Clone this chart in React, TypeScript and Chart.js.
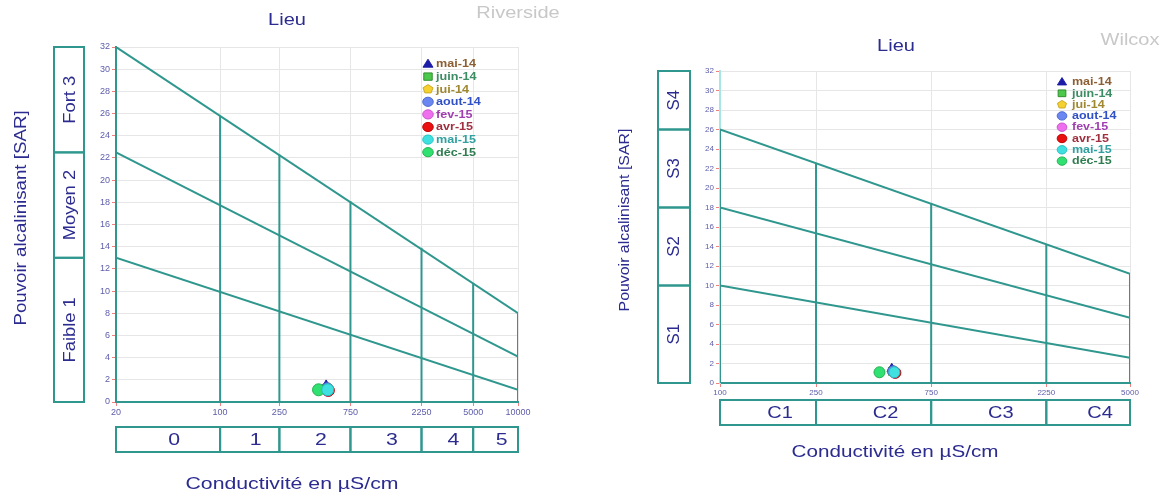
import React, { useEffect, useRef } from 'react';
import { Chart, registerables } from 'chart.js';
Chart.register(...registerables);

const TEAL = '#2f978e';
const INK = '#2b2b90';
const TICK_INK = '#5d5dab';
const FONT = '"Liberation Sans", Arial, sans-serif';

// ---- sampling series (shared by both diagrams) ----
const seriesNames = ['mai-14', 'juin-14', 'jui-14', 'aout-14', 'fev-15', 'avr-15', 'mai-15', 'déc-15'];
const seriesX = [515, 518, 520, 522, 530, 533, 528, 458];
const seriesY = [1.45, 1.2, 1.2, 1.2, 1.05, 1.05, 1.1, 1.1];
const seriesFill = ['#1c1ca8', '#4cc84c', '#f4d030', '#6a86f0', '#ee70ee', '#e81010', '#40e0e0', '#30e070'];
const seriesBorder = ['#1c1ca8', '#2a8a2a', '#c8a820', '#4a66d0', '#c850c8', '#c00000', '#20c0c0', '#20b050'];
const seriesShape = ['triangle', 'rect', 'pentagon', 'circle', 'circle', 'circle', 'circle', 'circle'];
const seriesText = ['#8b5e34', '#3c8c64', '#a08830', '#3050c8', '#a040b0', '#a03040', '#30a0a0', '#2e7d50'];
const seriesDrawOrder = [3, 5, 6, 2, 7, 4, 0, 1];

// ---- Riverside diagram ----
const leftXTicks = [20, 100, 250, 750, 2250, 5000, 10000];
const leftClassLabels = ['0', '1', '2', '3', '4', '5'];
const leftSarBounds = [0, 13, 22.5, 32];
const leftSarLabels = ['Faible 1', 'Moyen 2', 'Fort 3'];
const leftLineEnds = [20, 10000];
const leftHigh = [32, 8];
const leftMid = [22.5, 4.1];
const leftLow = [13, 1.1];
const leftVerticalTops = [32, 25.8, 22.3, 18.1, 13.9, 10.7, 8];

// ---- Wilcox diagram ----
const rightXTicks = [100, 250, 750, 2250, 5000];
const rightClassLabels = ['C1', 'C2', 'C3', 'C4'];
const rightSarBounds = [0, 10, 18, 26, 32];
const rightSarLabels = ['S1', 'S2', 'S3', 'S4'];
const rightLineEnds = [100, 5000];
const rightHigh = [26, 11.2];
const rightMid = [18, 6.7];
const rightLow = [10, 2.6];
const rightVerticalTops = [26, 22.5, 18.4, 14.2, 11.2];

const yMin = 0;
const yMax = 32;
const yStep = 2;

type Spec = {
  name: string;
  xTicks: number[];
  classLabels: string[];
  sarBounds: number[];
  sarLabels: string[];
  lineEnds: number[];
  lines: number[][];
  vTops: number[];
  yBorder: string;
  width: number;
  height: number;
  pad: { left: number; right: number; top: number; bottom: number };
  tickFont: number;
  pointR: number;
  sarBox: [number, number];
  sarFont: number;
  sarStretch: number;
  classBox: [number, number];
  classFont: number;
  classShift: number;
  titlePos: [number, number];
  namePos: [number, number];
  titleFont: number;
  yTitlePos: [number, number];
  yTitleFont: number;
  yTitleStretch: number;
  xTitlePos: [number, number];
  xTitleFont: number;
  legend: { mx: number; tx: number; y0: number; step: number; r: number; font: number; stretch: number };
};

const H_STRETCH = 1.25;

function stretchedText(ctx: CanvasRenderingContext2D, text: string, x: number, y: number, sx: number, rotate = false) {
  ctx.save();
  ctx.translate(x, y);
  if (rotate) ctx.rotate(-Math.PI / 2);
  ctx.scale(sx, 1);
  ctx.fillText(text, 0, 0);
  ctx.restore();
}

function drawShape(ctx: CanvasRenderingContext2D, shape: string, x: number, y: number, r: number) {
  ctx.save();
  ctx.translate(x, y);
  ctx.scale(1.15, 1);
  ctx.beginPath();
  if (shape === 'triangle') {
    ctx.moveTo(0, -r * 1.05);
    ctx.lineTo(r * 0.95, r * 0.7);
    ctx.lineTo(-r * 0.95, r * 0.7);
    ctx.closePath();
  } else if (shape === 'rect') {
    const h = r * 0.8;
    ctx.rect(-h, -h, 2 * h, 2 * h);
  } else if (shape === 'pentagon') {
    for (let i = 0; i < 5; i++) {
      const a = -Math.PI / 2 + (i * 2 * Math.PI) / 5;
      const px = r * Math.cos(a);
      const py = r * Math.sin(a);
      if (i === 0) ctx.moveTo(px, py);
      else ctx.lineTo(px, py);
    }
    ctx.closePath();
  } else {
    ctx.arc(0, 0, r, 0, Math.PI * 2);
  }
  ctx.fill();
  ctx.lineWidth = 1 / 1.15;
  ctx.stroke();
  ctx.restore();
}

function makeDecor(spec: Spec) {
  return {
    id: 'decor_' + spec.name,
    afterDraw(chart: any) {
      const ctx: CanvasRenderingContext2D = chart.ctx;
      const xs = chart.scales.x;
      const ys = chart.scales.y;
      ctx.save();
      // SAR class boxes (left side)
      ctx.strokeStyle = TEAL;
      ctx.lineWidth = 2;
      ctx.textAlign = 'center';
      ctx.textBaseline = 'middle';
      for (let i = 0; i < spec.sarLabels.length; i++) {
        const top = ys.getPixelForValue(spec.sarBounds[i + 1]);
        const bot = ys.getPixelForValue(spec.sarBounds[i]);
        const [x0, x1] = spec.sarBox;
        ctx.strokeRect(x0, top, x1 - x0, bot - top);
        ctx.fillStyle = INK;
        ctx.font = `${spec.sarFont}px ${FONT}`;
        stretchedText(ctx, spec.sarLabels[i], (x0 + x1) / 2 + 1, (top + bot) / 2, spec.sarStretch, true);
      }
      // conductivity class boxes (bottom)
      for (let i = 0; i < spec.classLabels.length; i++) {
        const l = xs.getPixelForValue(spec.xTicks[i]);
        const r = xs.getPixelForValue(spec.xTicks[i + 1]);
        const [y0, y1] = spec.classBox;
        ctx.strokeRect(l, y0, r - l, y1 - y0);
        ctx.fillStyle = INK;
        ctx.font = `${spec.classFont}px ${FONT}`;
        stretchedText(ctx, spec.classLabels[i], (l + r) / 2 + spec.classShift, (y0 + y1) / 2 + 1, H_STRETCH);
      }
      // titles
      ctx.fillStyle = INK;
      ctx.font = `${spec.titleFont}px ${FONT}`;
      stretchedText(ctx, 'Lieu', spec.titlePos[0], spec.titlePos[1], H_STRETCH);
      ctx.fillStyle = '#c8c8c8';
      stretchedText(ctx, spec.name, spec.namePos[0], spec.namePos[1], H_STRETCH);
      ctx.fillStyle = INK;
      ctx.font = `${spec.xTitleFont}px ${FONT}`;
      stretchedText(ctx, 'Conductivité en µS/cm', spec.xTitlePos[0], spec.xTitlePos[1], H_STRETCH);
      ctx.font = `${spec.yTitleFont}px ${FONT}`;
      stretchedText(ctx, 'Pouvoir alcalinisant [SAR]', spec.yTitlePos[0], spec.yTitlePos[1], spec.yTitleStretch, true);
      // legend
      const lg = spec.legend;
      for (let i = 0; i < seriesNames.length; i++) {
        const y = lg.y0 + i * lg.step;
        ctx.fillStyle = seriesFill[i];
        ctx.strokeStyle = seriesBorder[i];
        drawShape(ctx, seriesShape[i], lg.mx, y, lg.r);
        ctx.fillStyle = seriesText[i];
        ctx.font = `bold ${lg.font}px ${FONT}`;
        ctx.textAlign = 'left';
        ctx.textBaseline = 'middle';
        stretchedText(ctx, seriesNames[i], lg.tx, y + 0.5, lg.stretch);
      }
      ctx.restore();
    },
  };
}

function buildConfig(spec: Spec): any {
  const datasets: any[] = [];
  seriesNames.forEach((n, i) => {
    datasets.push({
      label: n,
      data: [{ x: seriesX[i], y: seriesY[i] }],
      pointStyle: seriesShape[i] === 'pentagon' ? 'circle' : seriesShape[i],
      pointRadius: spec.pointR,
      backgroundColor: seriesFill[i],
      borderColor: seriesBorder[i],
      borderWidth: 1,
      order: seriesDrawOrder[i],
    });
  });
  spec.lines.forEach((vals, k) => {
    datasets.push({
      label: 'limit' + k,
      data: spec.lineEnds.map((x, j) => ({ x, y: vals[j] })),
      showLine: true,
      pointRadius: 0,
      borderColor: TEAL,
      borderWidth: 2,
      order: 100,
    });
  });
  spec.xTicks.forEach((x, k) => {
    datasets.push({
      label: 'v' + k,
      data: [{ x, y: yMin }, { x, y: spec.vTops[k] }],
      showLine: true,
      pointRadius: 0,
      borderColor: TEAL,
      borderWidth: 2,
      order: 100,
    });
  });
  const tickFont = { family: FONT, size: spec.tickFont };
  return {
    type: 'scatter',
    data: { datasets },
    options: {
      animation: false,
      responsive: false,
      events: [],
      layout: { padding: spec.pad },
      plugins: { legend: { display: false }, tooltip: { enabled: false }, title: { display: false } },
      scales: {
        x: {
          type: 'logarithmic',
          min: spec.xTicks[0],
          max: spec.xTicks[spec.xTicks.length - 1],
          afterBuildTicks: (s: any) => {
            s.ticks = spec.xTicks.map((v) => ({ value: v }));
          },
          afterFit: (s: any) => {
            s.height = 20;
          },
          ticks: {
            autoSkip: false,
            maxRotation: 0,
            padding: 1,
            color: TICK_INK,
            font: tickFont,
            callback: (v: any) => String(v),
          },
          grid: { color: '#e6e6e6', tickColor: '#f08080', tickLength: 4 },
          border: { color: TEAL, width: 2 },
        },
        y: {
          min: yMin,
          max: yMax,
          afterFit: (s: any) => {
            s.width = 30;
          },
          ticks: { stepSize: yStep, color: TICK_INK, font: tickFont, padding: 2 },
          grid: { color: '#e6e6e6', tickColor: '#f08080', tickLength: 4 },
          border: { color: spec.yBorder, width: 2 },
        },
      },
    },
    plugins: [makeDecor(spec)],
  };
}

const leftSpec: Spec = {
  name: 'Riverside',
  xTicks: leftXTicks,
  classLabels: leftClassLabels,
  sarBounds: leftSarBounds,
  sarLabels: leftSarLabels,
  lineEnds: leftLineEnds,
  lines: [leftHigh, leftMid, leftLow],
  vTops: leftVerticalTops,
  yBorder: TEAL,
  width: 590,
  height: 494,
  pad: { left: 86, right: 72, top: 47, bottom: 72 },
  tickFont: 9,
  pointR: 6,
  sarBox: [54, 84],
  sarFont: 17,
  sarStretch: 1.08,
  classBox: [427, 452],
  classFont: 17,
  classShift: 6,
  titlePos: [287, 21],
  namePos: [518, 14],
  titleFont: 16,
  yTitlePos: [21, 218],
  yTitleFont: 17,
  yTitleStretch: 1.1,
  xTitlePos: [292, 484],
  xTitleFont: 17,
  legend: { mx: 428, tx: 436, y0: 64, step: 12.6, r: 4.6, font: 10.5, stretch: 1.2 },
};

const rightSpec: Spec = {
  name: 'Wilcox',
  xTicks: rightXTicks,
  classLabels: rightClassLabels,
  sarBounds: rightSarBounds,
  sarLabels: rightSarLabels,
  lineEnds: rightLineEnds,
  lines: [rightHigh, rightMid, rightLow],
  vTops: rightVerticalTops,
  yBorder: '#a8e6e6',
  width: 577,
  height: 494,
  pad: { left: 100, right: 37, top: 71, bottom: 91 },
  tickFont: 8,
  pointR: 5.5,
  sarBox: [68, 100],
  sarFont: 16,
  sarStretch: 1.05,
  classBox: [400, 425],
  classFont: 16,
  classShift: 12,
  titlePos: [306, 47],
  namePos: [540, 41],
  titleFont: 16,
  yTitlePos: [35, 220],
  yTitleFont: 15,
  yTitleStretch: 1.06,
  xTitlePos: [305, 452],
  xTitleFont: 16.5,
  legend: { mx: 472, tx: 482, y0: 82, step: 11.3, r: 4.2, font: 10, stretch: 1.25 },
};

function Diagram({ spec, left }: { spec: Spec; left: number }) {
  const ref = useRef<HTMLCanvasElement>(null);
  useEffect(() => {
    if (!ref.current) return;
    const chart = new Chart(ref.current, buildConfig(spec));
    return () => chart.destroy();
  }, [spec]);
  return (
    <canvas
      ref={ref}
      width={spec.width}
      height={spec.height}
      style={{ position: 'absolute', left, top: 0, width: spec.width, height: spec.height }}
    />
  );
}

export default function App() {
  return (
    <div style={{ position: 'fixed', left: 0, top: 0, width: 1167, height: 494, background: '#ffffff' }}>
      <Diagram spec={leftSpec} left={0} />
      <Diagram spec={rightSpec} left={590} />
    </div>
  );
}
